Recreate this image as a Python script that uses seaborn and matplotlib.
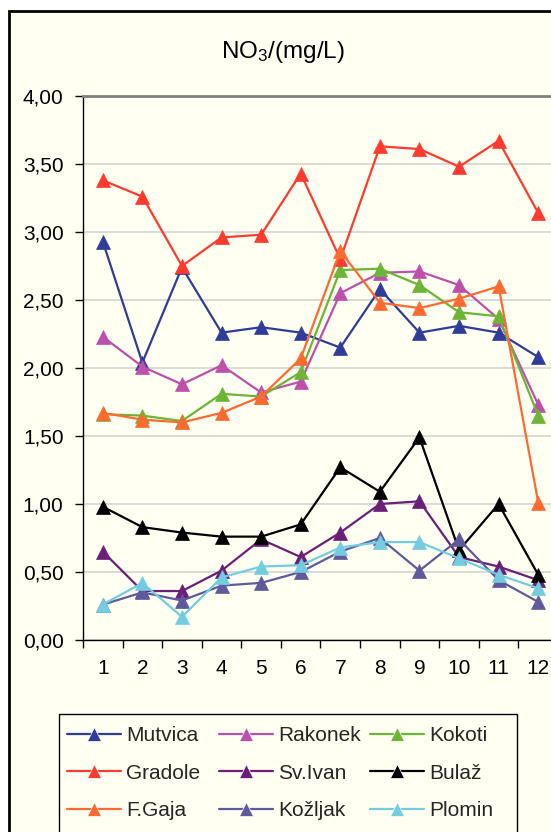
import matplotlib
matplotlib.use("Agg")
import matplotlib.pyplot as plt
from matplotlib.patches import Rectangle
from matplotlib.ticker import FixedLocator, FuncFormatter
import numpy as np
import pandas as pd
import seaborn as sns

# Monthly nitrate concentrations (mg/L) per sampling site
months = list(range(1, 13))
sites = ["Mutvica", "Rakonek", "Kokoti", "Gradole", "Sv.Ivan",
         "Bulaž", "F.Gaja", "Kožljak", "Plomin"]

mutvica = [2.93, 2.04, 2.74, 2.26, 2.30, 2.26, 2.15, 2.58, 2.26, 2.31, 2.26, 2.08]
rakonek = [2.23, 2.01, 1.88, 2.02, 1.82, 1.90, 2.55, 2.70, 2.71, 2.61, 2.36, 1.73]
kokoti = [1.66, 1.65, 1.61, 1.81, 1.79, 1.97, 2.72, 2.73, 2.61, 2.41, 2.38, 1.65]
gradole = [3.38, 3.26, 2.75, 2.96, 2.98, 3.43, 2.80, 3.63, 3.61, 3.48, 3.67, 3.14]
sv_ivan = [0.65, 0.36, 0.36, 0.51, 0.74, 0.61, 0.79, 1.00, 1.02, 0.61, 0.54, 0.44]
bulaz = [0.98, 0.83, 0.79, 0.76, 0.76, 0.85, 1.27, 1.09, 1.49, 0.66, 1.00, 0.48]
f_gaja = [1.67, 1.62, 1.60, 1.67, 1.79, 2.07, 2.86, 2.48, 2.44, 2.51, 2.60, 1.01]
kozljak = [0.26, 0.35, 0.29, 0.40, 0.42, 0.50, 0.65, 0.75, 0.51, 0.74, 0.44, 0.28]
plomin = [0.26, 0.42, 0.17, 0.46, 0.54, 0.55, 0.68, 0.72, 0.72, 0.60, 0.48, 0.38]

series = [mutvica, rakonek, kokoti, gradole, sv_ivan, bulaz, f_gaja, kozljak, plomin]
colors = ["#2F3C9A", "#BE50AC", "#6CB536", "#FF3A2E", "#6B2078",
          "#000000", "#FF6A30", "#5E5A9C", "#74CCE0"]

df = pd.DataFrame({
    "month": np.tile(months, len(sites)),
    "NO3": np.concatenate(series),
    "site": np.repeat(sites, len(months)),
})

sns.set_theme(style="white")
plt.rcParams["font.family"] = ["Liberation Sans", "DejaVu Sans"]
plt.rcParams["mathtext.fontset"] = "custom"
plt.rcParams["mathtext.rm"] = "Liberation Sans"
plt.rcParams["mathtext.default"] = "regular"

bg = "#FFFFF2"
W, H = 551, 832
fig = plt.figure(figsize=(W / 100, H / 100), dpi=100, facecolor="white")

# outer chart frame
fig.patches.append(Rectangle((9 / W, -0.05), 1.0, 1 - 11 / H + 0.05,
                             transform=fig.transFigure, facecolor=bg,
                             edgecolor="black", linewidth=2, zorder=-3))
# legend frame
fig.patches.append(Rectangle((59 / W, -0.05), (517 - 59) / W, 1 - 714 / H + 0.05,
                             transform=fig.transFigure, facecolor=bg,
                             edgecolor="black", linewidth=1, zorder=-2))

ax = fig.add_axes([83 / W, 1 - 640 / H, 475 / W, 544 / H])
ax.set_facecolor(bg)

sns.lineplot(data=df, x="month", y="NO3", hue="site", hue_order=sites,
             palette=colors, marker="^", markersize=10, linewidth=1.6,
             markeredgewidth=0.5, ax=ax)
for line, c in zip(ax.lines, colors):
    line.set_markeredgecolor(c)
    line.set_clip_on(False)

handles, labels = ax.get_legend_handles_labels()
ax.get_legend().remove()

ax.set_xlim(0.5, 12.5)
ax.set_ylim(0, 4)
ax.set_xlabel("")
ax.set_ylabel("")

ax.yaxis.set_major_locator(FixedLocator(np.arange(0, 4.01, 0.5)))
ax.yaxis.set_major_formatter(FuncFormatter(lambda v, p: f"{v:.2f}".replace(".", ",")))
ax.set_xticks(months)
ax.set_xticks(np.arange(0.5, 12.6, 1.0), minor=True)
ax.tick_params(axis="x", which="major", length=0, pad=14, labelsize=15, colors="black")
ax.tick_params(axis="x", which="minor", length=6, width=1, direction="out",
               bottom=True, color="black")
ax.tick_params(axis="y", which="major", length=6, width=1, direction="out",
               left=True, pad=8, labelsize=15, colors="black")

ax.grid(axis="y", color="#D3D3D3", linewidth=1.2)
ax.set_axisbelow(True)
ax.spines["right"].set_visible(False)
ax.spines["top"].set_color("#808080")
ax.spines["top"].set_linewidth(2)
ax.spines["left"].set_color("black")
ax.spines["left"].set_linewidth(1)
ax.spines["bottom"].set_color("black")
ax.spines["bottom"].set_linewidth(1)

fig.text(283 / W, 1 - 52 / H, "NO$_3$/(mg/L)", ha="center", va="center",
         fontsize=17.5, color="black")

# legend: three fixed-width columns, filled row by row
col_x = [67, 219, 370]
for k, x0 in enumerate(col_x):
    idx = [k, k + 3, k + 6]
    fig.legend([handles[i] for i in idx], [labels[i] for i in idx],
               loc="upper left", bbox_to_anchor=(x0 / W, 1 - 726 / H),
               ncol=1, frameon=False, fontsize=15, handlelength=2.6,
               handletextpad=0.25, labelspacing=0.9,
               borderpad=0, borderaxespad=0)

fig.savefig("out.png", dpi=100, facecolor="white")
